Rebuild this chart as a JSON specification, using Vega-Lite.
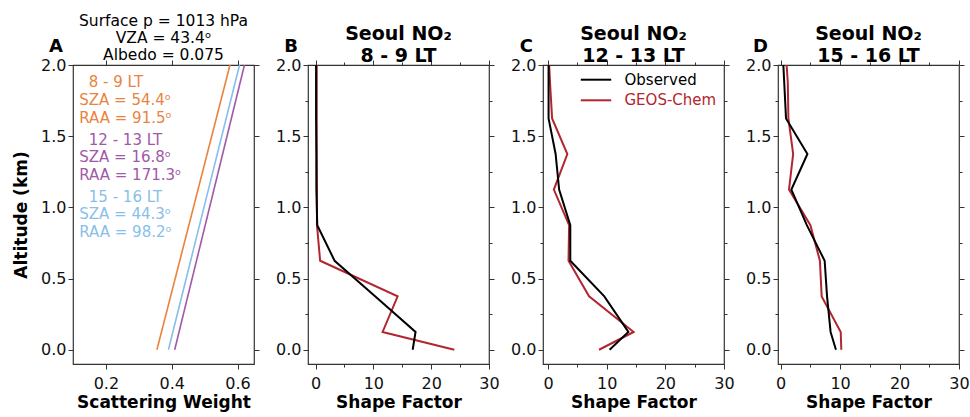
{
  "$schema": "https://vega.github.io/schema/vega-lite/v6.json",
  "padding": {"left": 11, "top": 12, "right": 5, "bottom": 5},
  "background": "white",
  "config": {
    "font": "DejaVu Sans",
    "view": {"stroke": "#333", "strokeWidth": 1.2},
    "axis": {"domain": false, "grid": false, "labelFont": "DejaVu Sans", "labelFontSize": 16, "labelColor": "#111", "tickColor": "#333", "tickWidth": 1, "titleFont": "DejaVu Sans", "titleFontSize": 17, "titleFontWeight": "bold", "titleColor": "#000", "labelFlush": false, "labelOverlap": false},
    "axisX": {"labelPadding": 6, "titlePadding": 3},
    "axisY": {"labelPadding": 2, "titlePadding": 10},
    "title": {"anchor": "middle", "frame": "group", "color": "#000", "font": "DejaVu Sans"}
  },
  "datasets": {
    "sw": [
      {"time": "8 - 9 LT", "alt": 0.0, "weight": 0.355},
      {"time": "8 - 9 LT", "alt": 2.0, "weight": 0.577},
      {"time": "12 - 13 LT", "alt": 0.0, "weight": 0.409},
      {"time": "12 - 13 LT", "alt": 2.0, "weight": 0.621},
      {"time": "15 - 16 LT", "alt": 0.0, "weight": 0.39},
      {"time": "15 - 16 LT", "alt": 2.0, "weight": 0.606}
    ],
    "b": [
      {"series": "GEOS-Chem", "alt": 0.0, "sf": 24.0},
      {"series": "GEOS-Chem", "alt": 0.125, "sf": 11.6},
      {"series": "GEOS-Chem", "alt": 0.375, "sf": 14.2},
      {"series": "GEOS-Chem", "alt": 0.625, "sf": 0.8},
      {"series": "GEOS-Chem", "alt": 0.875, "sf": 0.25},
      {"series": "GEOS-Chem", "alt": 1.125, "sf": 0.25},
      {"series": "GEOS-Chem", "alt": 1.375, "sf": 0.2},
      {"series": "GEOS-Chem", "alt": 1.625, "sf": 0.2},
      {"series": "GEOS-Chem", "alt": 1.875, "sf": 0.2},
      {"series": "GEOS-Chem", "alt": 2.0, "sf": 0.2},
      {"series": "Observed", "alt": 0.0, "sf": 16.8},
      {"series": "Observed", "alt": 0.125, "sf": 17.3},
      {"series": "Observed", "alt": 0.375, "sf": 10.3},
      {"series": "Observed", "alt": 0.625, "sf": 3.3},
      {"series": "Observed", "alt": 0.875, "sf": 0.3},
      {"series": "Observed", "alt": 1.125, "sf": 0.15},
      {"series": "Observed", "alt": 1.375, "sf": 0.15},
      {"series": "Observed", "alt": 1.625, "sf": 0.1},
      {"series": "Observed", "alt": 1.875, "sf": 0.1},
      {"series": "Observed", "alt": 2.0, "sf": 0.1}
    ],
    "c": [
      {"series": "GEOS-Chem", "alt": 0.0, "sf": 8.7},
      {"series": "GEOS-Chem", "alt": 0.125, "sf": 14.6},
      {"series": "GEOS-Chem", "alt": 0.375, "sf": 7.0},
      {"series": "GEOS-Chem", "alt": 0.625, "sf": 3.5},
      {"series": "GEOS-Chem", "alt": 0.875, "sf": 3.6},
      {"series": "GEOS-Chem", "alt": 1.125, "sf": 1.0},
      {"series": "GEOS-Chem", "alt": 1.375, "sf": 3.3},
      {"series": "GEOS-Chem", "alt": 1.625, "sf": 0.7},
      {"series": "GEOS-Chem", "alt": 1.875, "sf": 0.35},
      {"series": "GEOS-Chem", "alt": 2.0, "sf": 0.2},
      {"series": "Observed", "alt": 0.0, "sf": 10.5},
      {"series": "Observed", "alt": 0.125, "sf": 13.7},
      {"series": "Observed", "alt": 0.375, "sf": 9.6},
      {"series": "Observed", "alt": 0.625, "sf": 3.8},
      {"series": "Observed", "alt": 0.875, "sf": 3.8},
      {"series": "Observed", "alt": 1.125, "sf": 1.9},
      {"series": "Observed", "alt": 1.375, "sf": 1.3},
      {"series": "Observed", "alt": 1.625, "sf": 0.1},
      {"series": "Observed", "alt": 1.875, "sf": 0.1},
      {"series": "Observed", "alt": 2.0, "sf": 0.1}
    ],
    "d": [
      {"series": "GEOS-Chem", "alt": 0.0, "sf": 10.2},
      {"series": "GEOS-Chem", "alt": 0.125, "sf": 10.1},
      {"series": "GEOS-Chem", "alt": 0.375, "sf": 6.9},
      {"series": "GEOS-Chem", "alt": 0.625, "sf": 6.6},
      {"series": "GEOS-Chem", "alt": 0.875, "sf": 5.0},
      {"series": "GEOS-Chem", "alt": 1.125, "sf": 1.4},
      {"series": "GEOS-Chem", "alt": 1.375, "sf": 2.1},
      {"series": "GEOS-Chem", "alt": 1.625, "sf": 1.3},
      {"series": "GEOS-Chem", "alt": 1.875, "sf": 1.2},
      {"series": "GEOS-Chem", "alt": 2.0, "sf": 1.0},
      {"series": "Observed", "alt": 0.0, "sf": 9.3},
      {"series": "Observed", "alt": 0.125, "sf": 8.4},
      {"series": "Observed", "alt": 0.375, "sf": 7.8},
      {"series": "Observed", "alt": 0.625, "sf": 7.4},
      {"series": "Observed", "alt": 0.875, "sf": 4.4},
      {"series": "Observed", "alt": 1.125, "sf": 1.8},
      {"series": "Observed", "alt": 1.375, "sf": 4.5},
      {"series": "Observed", "alt": 1.625, "sf": 0.9},
      {"series": "Observed", "alt": 1.875, "sf": 0.6},
      {"series": "Observed", "alt": 2.0, "sf": 0.45}
    ]
  },
  "spacing": 54,
  "bounds": "flush",
  "resolve": {"scale": {"x": "independent", "y": "independent", "color": "independent"}, "axis": {"x": "independent", "y": "independent"}, "legend": {"color": "independent"}},
  "hconcat": [
    {
      "width": 181, "height": 299,
      "title": {"text": ["Surface p = 1013 hPa", "VZA = 43.4ᵒ", "Albedo = 0.075"], "fontSize": 15.5, "fontWeight": "normal", "lineHeight": 17, "offset": -25},
      "resolve": {"axis": {"x": "independent", "y": "independent"}},
      "layer": [
        {
          "data": {"name": "sw"},
          "mark": {"type": "line", "strokeWidth": 1.6},
          "encoding": {
            "x": {"field": "weight", "type": "quantitative", "scale": {"domain": [0.1, 0.65], "nice": false, "zero": false}, "axis": {"orient": "bottom", "values": [0.2, 0.4, 0.6], "format": ".1f", "tickSize": 5, "title": "Scattering Weight"}},
            "y": {"field": "alt", "type": "quantitative", "scale": {"domain": [-0.1, 2.0], "nice": false, "zero": false}, "axis": {"orient": "left", "values": [0, 0.5, 1, 1.5, 2], "format": ".1f", "tickSize": 5, "title": "Altitude (km)"}},
            "color": {"field": "time", "type": "nominal", "scale": {"domain": ["8 - 9 LT", "12 - 13 LT", "15 - 16 LT"], "range": ["#E8843F", "#A258A8", "#88BFEA"]}, "legend": null},
            "order": {"field": "alt", "type": "quantitative"}
          }
        },
        {
          "data": {"name": "sw"},
          "mark": {"type": "point", "opacity": 0},
          "encoding": {
            "x": {"field": "weight", "type": "quantitative", "axis": {"orient": "top", "values": [0.2, 0.4, 0.6], "labels": false, "tickSize": 5, "title": null}},
            "y": {"field": "alt", "type": "quantitative", "axis": {"orient": "right", "values": [0, 0.5, 1, 1.5, 2], "labels": false, "tickSize": 5, "title": null}}
          }
        },
        {
          "data": {"values": [{}]},
          "mark": {"type": "text", "align": "left", "baseline": "alphabetic", "fontSize": 15, "color": "#E8843F"},
          "encoding": {"x": {"datum": 0.148, "axis": null}, "y": {"datum": 1.842, "axis": null}, "text": {"value": "8 - 9 LT"}}
        },
        {
          "data": {"values": [{}]},
          "mark": {"type": "text", "align": "left", "baseline": "alphabetic", "fontSize": 15, "lineHeight": 17.5, "color": "#E8843F"},
          "encoding": {"x": {"datum": 0.119, "axis": null}, "y": {"datum": 1.719, "axis": null}, "text": {"value": ["SZA = 54.4ᵒ", "RAA = 91.5ᵒ"]}}
        },
        {
          "data": {"values": [{}]},
          "mark": {"type": "text", "align": "left", "baseline": "alphabetic", "fontSize": 15, "color": "#A258A8"},
          "encoding": {"x": {"datum": 0.148, "axis": null}, "y": {"datum": 1.44, "axis": null}, "text": {"value": "12 - 13 LT"}}
        },
        {
          "data": {"values": [{}]},
          "mark": {"type": "text", "align": "left", "baseline": "alphabetic", "fontSize": 15, "lineHeight": 17.5, "color": "#A258A8"},
          "encoding": {"x": {"datum": 0.119, "axis": null}, "y": {"datum": 1.317, "axis": null}, "text": {"value": ["SZA = 16.8ᵒ", "RAA = 171.3ᵒ"]}}
        },
        {
          "data": {"values": [{}]},
          "mark": {"type": "text", "align": "left", "baseline": "alphabetic", "fontSize": 15, "color": "#88BFEA"},
          "encoding": {"x": {"datum": 0.148, "axis": null}, "y": {"datum": 1.039, "axis": null}, "text": {"value": "15 - 16 LT"}}
        },
        {
          "data": {"values": [{}]},
          "mark": {"type": "text", "align": "left", "baseline": "alphabetic", "fontSize": 15, "lineHeight": 17.5, "color": "#88BFEA"},
          "encoding": {"x": {"datum": 0.119, "axis": null}, "y": {"datum": 0.916, "axis": null}, "text": {"value": ["SZA = 44.3ᵒ", "RAA = 98.2ᵒ"]}}
        },
        {
          "data": {"values": [{}]},
          "mark": {"type": "text", "align": "right", "baseline": "alphabetic", "fontSize": 18, "fontWeight": "bold", "color": "#000"},
          "encoding": {"x": {"datum": 0.0697, "axis": null}, "y": {"datum": 2.091, "axis": null}, "text": {"value": "A"}}
        }
      ]
    },
    {
      "width": 181, "height": 299,
      "title": {"text": ["Seoul NO₂", "8 - 9 LT"], "fontSize": 19, "fontWeight": "bold", "lineHeight": 22, "offset": -28},
      "resolve": {"axis": {"x": "independent", "y": "independent"}},
      "layer": [
        {
          "data": {"name": "b"},
          "mark": {"type": "line", "strokeWidth": 2},
          "encoding": {
            "x": {"field": "sf", "type": "quantitative", "scale": {"domain": [-1.3, 30], "nice": false, "zero": false}, "axis": {"orient": "bottom", "values": [0, 5, 10, 15, 20, 25, 30], "labelExpr": "datum.value % 10 === 0 ? format(datum.value, 'd') : ''", "tickSize": {"condition": {"test": "datum.value % 10 !== 0", "value": 3}, "value": 5}, "title": "Shape Factor"}},
            "y": {"field": "alt", "type": "quantitative", "scale": {"domain": [-0.1, 2.0], "nice": false, "zero": false}, "axis": {"orient": "left", "values": [0, 0.25, 0.5, 0.75, 1, 1.25, 1.5, 1.75, 2], "labelExpr": "datum.value % 0.5 === 0 ? format(datum.value, '.1f') : ''", "tickSize": {"condition": {"test": "datum.value % 0.5 !== 0", "value": 3}, "value": 5}, "title": null}},
            "color": {"field": "series", "type": "nominal", "scale": {"domain": ["Observed", "GEOS-Chem"], "range": ["#000000", "#B2262F"]}, "legend": null},
            "order": {"field": "alt", "type": "quantitative"}
          }
        },
        {
          "data": {"name": "b"},
          "mark": {"type": "point", "opacity": 0},
          "encoding": {
            "x": {"field": "sf", "type": "quantitative", "axis": {"orient": "top", "values": [0, 5, 10, 15, 20, 25, 30], "labels": false, "tickSize": {"condition": {"test": "datum.value % 10 !== 0", "value": 3}, "value": 5}, "title": null}},
            "y": {"field": "alt", "type": "quantitative", "axis": {"orient": "right", "values": [0, 0.25, 0.5, 0.75, 1, 1.25, 1.5, 1.75, 2], "labels": false, "tickSize": {"condition": {"test": "datum.value % 0.5 !== 0", "value": 3}, "value": 5}, "title": null}}
          }
        },
        {
          "data": {"values": [{}]},
          "mark": {"type": "text", "align": "right", "baseline": "alphabetic", "fontSize": 18, "fontWeight": "bold", "color": "#000"},
          "encoding": {"x": {"datum": -3.03, "axis": null}, "y": {"datum": 2.091, "axis": null}, "text": {"value": "B"}}
        }
      ]
    },
    {
      "width": 181, "height": 299,
      "title": {"text": ["Seoul NO₂", "12 - 13 LT"], "fontSize": 19, "fontWeight": "bold", "lineHeight": 22, "offset": -28},
      "resolve": {"axis": {"x": "independent", "y": "independent"}},
      "layer": [
        {
          "data": {"name": "c"},
          "mark": {"type": "line", "strokeWidth": 2},
          "encoding": {
            "x": {"field": "sf", "type": "quantitative", "scale": {"domain": [-0.85, 30], "nice": false, "zero": false}, "axis": {"orient": "bottom", "values": [0, 5, 10, 15, 20, 25, 30], "labelExpr": "datum.value % 10 === 0 ? format(datum.value, 'd') : ''", "tickSize": {"condition": {"test": "datum.value % 10 !== 0", "value": 3}, "value": 5}, "title": "Shape Factor"}},
            "y": {"field": "alt", "type": "quantitative", "scale": {"domain": [-0.1, 2.0], "nice": false, "zero": false}, "axis": {"orient": "left", "values": [0, 0.25, 0.5, 0.75, 1, 1.25, 1.5, 1.75, 2], "labelExpr": "datum.value % 0.5 === 0 ? format(datum.value, '.1f') : ''", "tickSize": {"condition": {"test": "datum.value % 0.5 !== 0", "value": 3}, "value": 5}, "title": null}},
            "color": {"field": "series", "type": "nominal", "scale": {"domain": ["Observed", "GEOS-Chem"], "range": ["#000000", "#B2262F"]},
              "legend": {"orient": "none", "legendX": 41.5, "legendY": 3.2, "title": null, "symbolType": "M-1.45,0H1.45", "symbolStrokeWidth": 2, "symbolSize": 441, "labelFont": "DejaVu Sans", "labelFontSize": 15, "labelOffset": 17, "padding": 0, "rowPadding": 0.6,
                "encode": {"labels": {"update": {"fill": {"signal": "datum.label === 'GEOS-Chem' ? '#B2262F' : '#000000'"}}}}}},
            "order": {"field": "alt", "type": "quantitative"}
          }
        },
        {
          "data": {"name": "c"},
          "mark": {"type": "point", "opacity": 0},
          "encoding": {
            "x": {"field": "sf", "type": "quantitative", "axis": {"orient": "top", "values": [0, 5, 10, 15, 20, 25, 30], "labels": false, "tickSize": {"condition": {"test": "datum.value % 10 !== 0", "value": 3}, "value": 5}, "title": null}},
            "y": {"field": "alt", "type": "quantitative", "axis": {"orient": "right", "values": [0, 0.25, 0.5, 0.75, 1, 1.25, 1.5, 1.75, 2], "labels": false, "tickSize": {"condition": {"test": "datum.value % 0.5 !== 0", "value": 3}, "value": 5}, "title": null}}
          }
        },
        {
          "data": {"values": [{}]},
          "mark": {"type": "text", "align": "right", "baseline": "alphabetic", "fontSize": 18, "fontWeight": "bold", "color": "#000"},
          "encoding": {"x": {"datum": -2.55, "axis": null}, "y": {"datum": 2.091, "axis": null}, "text": {"value": "C"}}
        }
      ]
    },
    {
      "width": 181, "height": 299,
      "title": {"text": ["Seoul NO₂", "15 - 16 LT"], "fontSize": 19, "fontWeight": "bold", "lineHeight": 22, "offset": -28},
      "resolve": {"axis": {"x": "independent", "y": "independent"}},
      "layer": [
        {
          "data": {"name": "d"},
          "mark": {"type": "line", "strokeWidth": 2},
          "encoding": {
            "x": {"field": "sf", "type": "quantitative", "scale": {"domain": [-0.45, 30], "nice": false, "zero": false}, "axis": {"orient": "bottom", "values": [0, 5, 10, 15, 20, 25, 30], "labelExpr": "datum.value % 10 === 0 ? format(datum.value, 'd') : ''", "tickSize": {"condition": {"test": "datum.value % 10 !== 0", "value": 3}, "value": 5}, "title": "Shape Factor"}},
            "y": {"field": "alt", "type": "quantitative", "scale": {"domain": [-0.1, 2.0], "nice": false, "zero": false}, "axis": {"orient": "left", "values": [0, 0.25, 0.5, 0.75, 1, 1.25, 1.5, 1.75, 2], "labelExpr": "datum.value % 0.5 === 0 ? format(datum.value, '.1f') : ''", "tickSize": {"condition": {"test": "datum.value % 0.5 !== 0", "value": 3}, "value": 5}, "title": null}},
            "color": {"field": "series", "type": "nominal", "scale": {"domain": ["Observed", "GEOS-Chem"], "range": ["#000000", "#B2262F"]}, "legend": null},
            "order": {"field": "alt", "type": "quantitative"}
          }
        },
        {
          "data": {"name": "d"},
          "mark": {"type": "point", "opacity": 0},
          "encoding": {
            "x": {"field": "sf", "type": "quantitative", "axis": {"orient": "top", "values": [0, 5, 10, 15, 20, 25, 30], "labels": false, "tickSize": {"condition": {"test": "datum.value % 10 !== 0", "value": 3}, "value": 5}, "title": null}},
            "y": {"field": "alt", "type": "quantitative", "axis": {"orient": "right", "values": [0, 0.25, 0.5, 0.75, 1, 1.25, 1.5, 1.75, 2], "labels": false, "tickSize": {"condition": {"test": "datum.value % 0.5 !== 0", "value": 3}, "value": 5}, "title": null}}
          }
        },
        {
          "data": {"values": [{}]},
          "mark": {"type": "text", "align": "right", "baseline": "alphabetic", "fontSize": 18, "fontWeight": "bold", "color": "#000"},
          "encoding": {"x": {"datum": -2.13, "axis": null}, "y": {"datum": 2.091, "axis": null}, "text": {"value": "D"}}
        }
      ]
    }
  ]
}
